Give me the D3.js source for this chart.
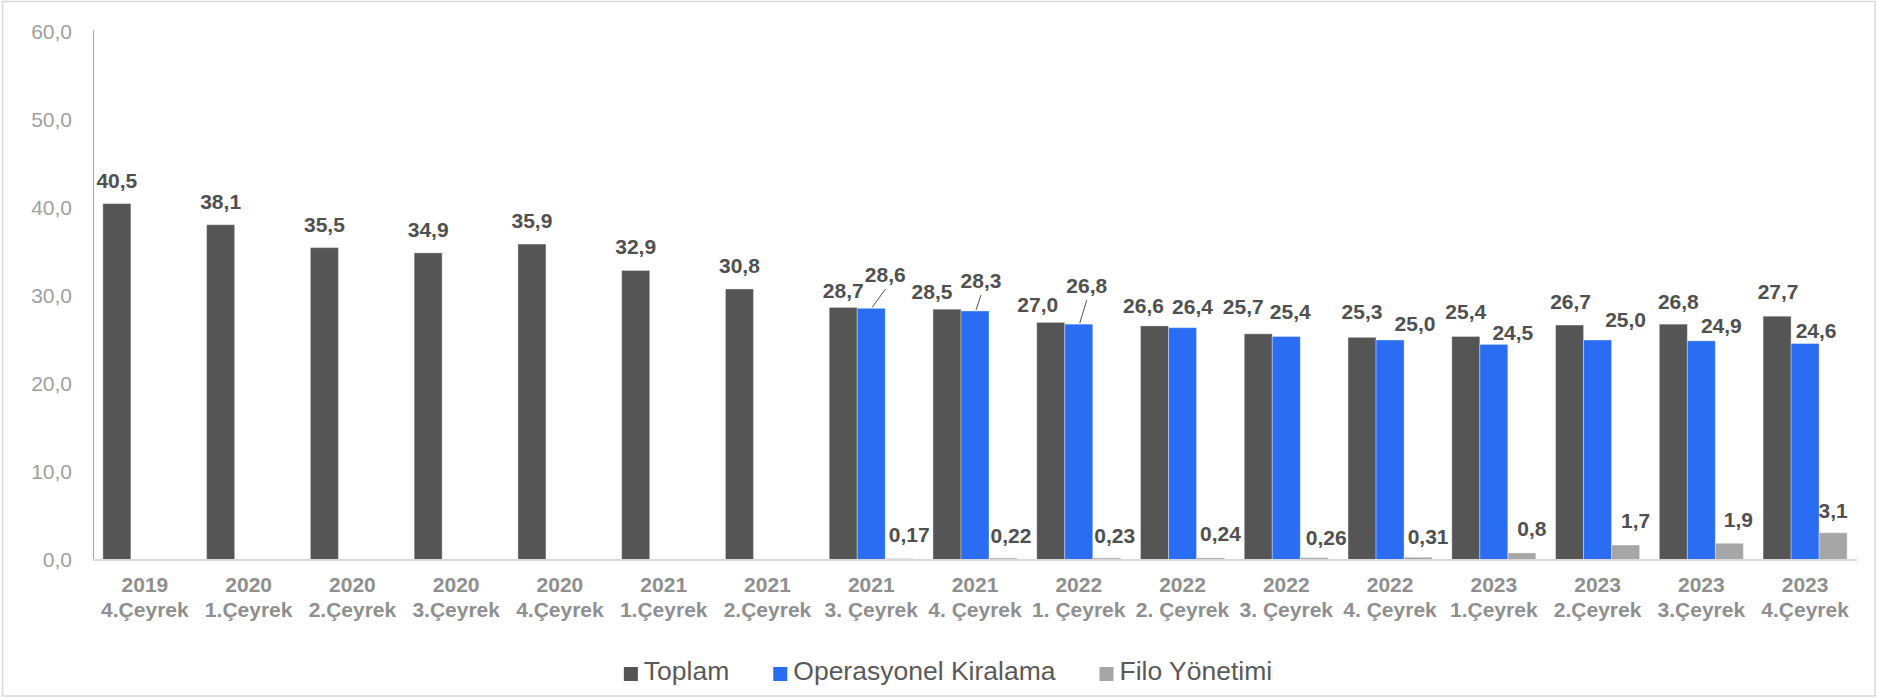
<!DOCTYPE html>
<html>
<head>
<meta charset="utf-8">
<script src="https://cdn.jsdelivr.net/npm/d3@7"></script>
<style>
  body { margin: 0; background: #fff; }
  svg { display: block; font-family: "Liberation Sans", Arial, sans-serif; }
</style>
</head>
<body>
<svg id="chart" width="1877" height="698"></svg>
<script>
// Data
const years = ["2019","2020","2020","2020","2020","2021","2021","2021","2021","2022","2022","2022","2022","2023","2023","2023","2023"];
const quarters = ["4.Çeyrek","1.Çeyrek","2.Çeyrek","3.Çeyrek","4.Çeyrek","1.Çeyrek","2.Çeyrek","3. Çeyrek","4. Çeyrek","1. Çeyrek","2. Çeyrek","3. Çeyrek","4. Çeyrek","1.Çeyrek","2.Çeyrek","3.Çeyrek","4.Çeyrek"];
const seriesNames = ["Toplam", "Operasyonel Kiralama", "Filo Yönetimi"];
const toplam = [40.5, 38.1, 35.5, 34.9, 35.9, 32.9, 30.8, 28.7, 28.5, 27.0, 26.6, 25.7, 25.3, 25.4, 26.7, 26.8, 27.7];
const operasyonel = [null, null, null, null, null, null, null, 28.6, 28.3, 26.8, 26.4, 25.4, 25.0, 24.5, 25.0, 24.9, 24.6];
const filo = [null, null, null, null, null, null, null, 0.17, 0.22, 0.23, 0.24, 0.26, 0.31, 0.8, 1.7, 1.9, 3.1];
const yTicks = [0, 10, 20, 30, 40, 50, 60];

const colors = ["#555555", "#2b6df2", "#a6a6a6"];

// hand placed label offsets (like the manual nudges in the original)
const labelDx = [
  [0,0,0,0,0,0,0,0,-15,-13,-11,-15,0,0,1,5,1],
  [0,0,0,0,0,0,0,14,6,8,10,4,25,19,28,20,11],
  [0,0,0,0,0,0,0,10,8,8,10,12,10,10,10,9,0]
];
const labelGap = [
  [16,16,16,16,16,16,16,9,10,10,13,20,18,17,16,15,17],
  [0,0,0,0,0,0,0,26,23,31,14,17,9,4,13,8,6],
  [0,0,0,0,0,0,0,17,15,15,17,13,13,17,17,16,15]
];

const width = 1877, height = 698;
const plotLeft = 93, plotRight = 1857, plotTop = 32, plotBottom = 560;

const categories = years.map((y, i) => y + "|" + quarters[i]);
const values = [toplam, operasyonel, filo];

const svg = d3.select("#chart");

// outer frame
svg.append("rect")
  .attr("x", 2.5).attr("y", 1.5)
  .attr("width", width - 4.5).attr("height", height - 3.5)
  .attr("fill", "none").attr("stroke", "#d9d9d9").attr("stroke-width", 1.5);

const x0 = d3.scaleBand()
  .domain(categories)
  .range([plotLeft, plotRight])
  .paddingInner(0.19)
  .paddingOuter(0.095);

const x1 = d3.scaleBand()
  .domain(d3.range(seriesNames.length))
  .range([0, x0.bandwidth()]);

const y = d3.scaleLinear()
  .domain([0, 60])
  .range([plotBottom, plotTop]);

const fmt = v => (v < 0.5 ? d3.format(".2f")(v) : d3.format(".1f")(v)).replace(".", ",");

// y axis (labels only + plain line)
const yAxis = svg.append("g")
  .attr("transform", `translate(${plotLeft},0)`)
  .call(d3.axisLeft(y).tickValues(yTicks).tickSize(0).tickPadding(21)
    .tickFormat(d => d3.format(".1f")(d).replace(".", ",")));
yAxis.select(".domain").remove();
yAxis.selectAll("text")
  .attr("fill", "#a0a0a0")
  .style("font-size", "21px");

svg.append("line")
  .attr("x1", plotLeft + 0.5).attr("x2", plotLeft + 0.5)
  .attr("y1", y(60) - 2).attr("y2", plotBottom)
  .attr("stroke", "#a6a6a6").attr("stroke-width", 1);

// bars
values.forEach((vals, s) => {
  const data = vals.map((v, i) => ({ v, i })).filter(d => d.v != null);
  svg.append("g")
    .selectAll("rect")
    .data(data)
    .join("rect")
    .attr("x", d => x0(categories[d.i]) + x1(s))
    .attr("y", d => y(d.v))
    .attr("width", x1.bandwidth())
    .attr("height", d => plotBottom - y(d.v))
    .attr("fill", colors[s])
    .attr("stroke", "rgba(255,255,255,0.35)")
    .attr("stroke-width", 1);
});

// x axis line
svg.append("line")
  .attr("x1", plotLeft).attr("x2", plotRight)
  .attr("y1", plotBottom).attr("y2", plotBottom)
  .attr("stroke", "#d9d9d9").attr("stroke-width", 2);

// x axis labels, two lines each
const xAxis = svg.append("g")
  .attr("transform", `translate(0,${plotBottom})`)
  .call(d3.axisBottom(x0).tickSize(0).tickFormat(""));
xAxis.select(".domain").remove();
xAxis.selectAll(".tick").each(function (d) {
  const parts = d.split("|");
  const t = d3.select(this).append("text")
    .attr("text-anchor", "middle")
    .attr("fill", "#8f8f8f")
    .style("font-size", "21px")
    .style("font-weight", "bold");
  t.append("tspan").attr("x", 0).attr("y", 32).text(parts[0]);
  t.append("tspan").attr("x", 0).attr("y", 57).text(parts[1]);
});

// data labels
values.forEach((vals, s) => {
  const data = vals.map((v, i) => ({ v, i })).filter(d => d.v != null);
  const g = svg.append("g");
  data.forEach(d => {
    const cx = x0(categories[d.i]) + x1(s) + x1.bandwidth() / 2;
    const tx = cx + labelDx[s][d.i];
    const base = y(d.v) - labelGap[s][d.i];
    g.append("text")
      .attr("x", tx).attr("y", base)
      .attr("text-anchor", "middle")
      .attr("fill", "#505050")
      .style("font-size", "21px")
      .style("font-weight", "bold")
      .text(fmt(d.v));
    if (labelGap[s][d.i] >= 20 && s === 1) {
      g.append("line")
        .attr("x1", tx).attr("y1", base + 7)
        .attr("x2", cx + 1).attr("y2", y(d.v) - 1)
        .attr("stroke", "#555555").attr("stroke-width", 1);
    }
  });
});

// legend
const legend = svg.append("g");
let legendX = 0;
seriesNames.forEach((name, s) => {
  const item = legend.append("g").attr("transform", `translate(${legendX},0)`);
  item.append("rect")
    .attr("x", 0).attr("y", -13)
    .attr("width", 14).attr("height", 14)
    .attr("fill", colors[s]);
  const t = item.append("text")
    .attr("x", 20).attr("y", 0)
    .attr("fill", "#595959")
    .style("font-size", "26.5px")
    .text(name);
  legendX += 20 + t.node().getComputedTextLength() + 44;
});
const legendW = legendX - 44;
legend.attr("transform", `translate(${948 - legendW / 2},680)`);
</script>
</body>
</html>
